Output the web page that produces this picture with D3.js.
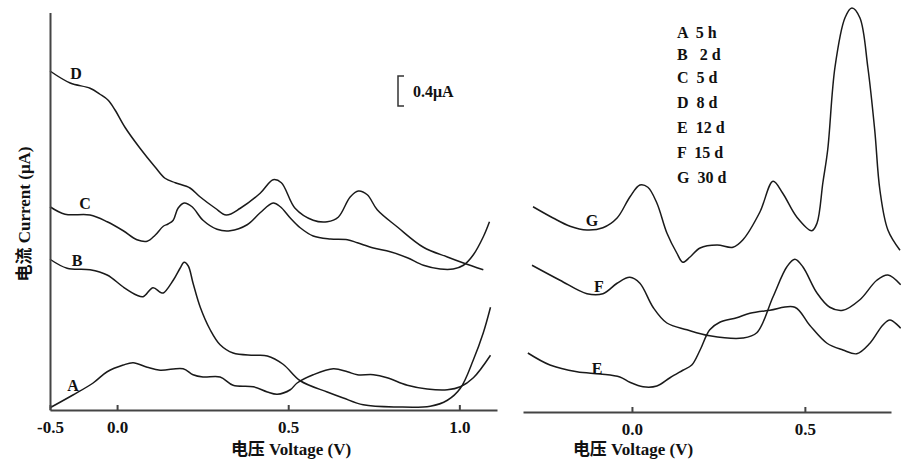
<!DOCTYPE html>
<html>
<head>
<meta charset="utf-8">
<script src="https://cdn.jsdelivr.net/npm/d3@7"></script>
<style>
  body { margin: 0; background: #fff; }
  .lbl { font-family: "Liberation Serif", "DejaVu Serif", serif; font-weight: bold; fill: #111; }
  .title { font-family: "Liberation Serif", "Noto Sans CJK SC", serif; font-weight: bold; fill: #111; }
  .axis path, .axis line { stroke: #444; stroke-width: 2; }
  .curve { fill: none; stroke: #1a1a1a; stroke-width: 1.5; }
</style>
</head>
<body>
<div id="chart"></div>
<script>
// Voltage (V) / current (uA).
const voltsA = [-0.196, -0.129, -0.070, -0.029, 0.018, 0.047, 0.088, 0.126, 0.193, 0.222, 0.251, 0.301, 0.339, 0.398, 0.439, 0.468, 0.506, 0.526, 0.573, 0.632, 0.673, 0.702, 0.749, 0.789, 0.848, 0.906, 0.965, 1.003, 1.041, 1.091];
const currA = [0.03, 0.20, 0.36, 0.51, 0.60, 0.63, 0.57, 0.53, 0.55, 0.47, 0.44, 0.44, 0.33, 0.31, 0.24, 0.21, 0.27, 0.36, 0.47, 0.55, 0.51, 0.47, 0.47, 0.43, 0.33, 0.28, 0.27, 0.31, 0.43, 0.73];

const voltsB = [-0.196, -0.146, -0.079, -0.029, 0.018, 0.058, 0.076, 0.105, 0.126, 0.135, 0.164, 0.184, 0.196, 0.208, 0.222, 0.243, 0.272, 0.301, 0.339, 0.398, 0.439, 0.485, 0.535, 0.614, 0.661, 0.719, 0.819, 0.915, 0.965, 1.003, 1.041, 1.070, 1.091];
const currB = [2.01, 1.89, 1.87, 1.80, 1.64, 1.53, 1.51, 1.63, 1.57, 1.56, 1.73, 1.89, 1.97, 1.92, 1.69, 1.37, 1.07, 0.87, 0.76, 0.73, 0.72, 0.61, 0.39, 0.24, 0.16, 0.07, 0.04, 0.05, 0.13, 0.29, 0.67, 1.03, 1.37];

const voltsC = [-0.196, -0.152, -0.079, -0.029, 0.018, 0.058, 0.088, 0.111, 0.135, 0.149, 0.164, 0.178, 0.196, 0.219, 0.251, 0.292, 0.330, 0.380, 0.418, 0.456, 0.477, 0.506, 0.535, 0.573, 0.623, 0.673, 0.702, 0.749, 0.798, 0.848, 0.895, 0.944, 0.982, 1.012, 1.041, 1.070, 1.088];
const currC = [2.71, 2.61, 2.60, 2.51, 2.39, 2.27, 2.25, 2.33, 2.45, 2.48, 2.53, 2.69, 2.76, 2.71, 2.53, 2.41, 2.39, 2.47, 2.63, 2.76, 2.71, 2.56, 2.43, 2.32, 2.28, 2.27, 2.23, 2.16, 2.11, 2.03, 1.93, 1.88, 1.88, 1.93, 2.07, 2.31, 2.51];

const voltsD = [-0.196, -0.137, -0.079, -0.050, -0.026, -0.006, 0.023, 0.067, 0.111, 0.140, 0.170, 0.213, 0.243, 0.287, 0.319, 0.360, 0.418, 0.456, 0.480, 0.520, 0.573, 0.614, 0.646, 0.681, 0.705, 0.731, 0.760, 0.819, 0.895, 0.965, 1.012, 1.070];
const currD = [4.52, 4.36, 4.29, 4.21, 4.13, 4.00, 3.77, 3.49, 3.24, 3.09, 3.03, 2.96, 2.84, 2.69, 2.60, 2.69, 2.89, 3.07, 3.03, 2.69, 2.53, 2.51, 2.57, 2.84, 2.92, 2.87, 2.67, 2.44, 2.17, 2.04, 1.96, 1.87];

const voltsE = [-0.301, -0.237, -0.159, -0.092, -0.035, -0.006, 0.032, 0.072, 0.110, 0.147, 0.173, 0.197, 0.225, 0.254, 0.303, 0.341, 0.399, 0.471, 0.514, 0.564, 0.610, 0.650, 0.688, 0.725, 0.746, 0.777];
const currE = [0.76, 0.60, 0.51, 0.48, 0.44, 0.37, 0.31, 0.32, 0.43, 0.53, 0.60, 0.80, 1.07, 1.17, 1.23, 1.29, 1.33, 1.37, 1.13, 0.89, 0.80, 0.75, 0.89, 1.13, 1.20, 1.09];

const voltsF = [-0.289, -0.208, -0.130, -0.084, -0.043, -0.006, 0.023, 0.061, 0.101, 0.159, 0.225, 0.321, 0.361, 0.408, 0.448, 0.471, 0.494, 0.535, 0.572, 0.610, 0.659, 0.708, 0.740, 0.777];
const currF = [1.93, 1.73, 1.55, 1.55, 1.69, 1.77, 1.69, 1.37, 1.16, 1.07, 0.99, 0.96, 1.03, 1.51, 1.91, 2.01, 1.91, 1.56, 1.37, 1.33, 1.47, 1.73, 1.80, 1.67];

const voltsG = [-0.286, -0.228, -0.179, -0.130, -0.084, -0.043, -0.006, 0.023, 0.046, 0.072, 0.101, 0.130, 0.147, 0.168, 0.197, 0.246, 0.292, 0.321, 0.370, 0.408, 0.436, 0.477, 0.520, 0.535, 0.552, 0.566, 0.587, 0.616, 0.636, 0.659, 0.682, 0.702, 0.717, 0.740, 0.775];
const currG = [2.71, 2.56, 2.45, 2.40, 2.43, 2.56, 2.84, 3.00, 2.97, 2.76, 2.36, 2.09, 1.97, 2.04, 2.16, 2.20, 2.17, 2.27, 2.64, 3.05, 2.89, 2.57, 2.39, 2.49, 3.03, 3.47, 4.57, 5.23, 5.36, 5.23, 4.57, 3.73, 2.93, 2.40, 2.13];

const leftTickValues = [-0.196, 0, 0.5, 1.0];
const leftTickLabels = ['-0.5', '0.0', '0.5', '1.0'];
const rightTickValues = [0, 0.5];
const rightTickLabels = ['0.0', '0.5'];

const legendItems = ['A  5 h', 'B   2 d', 'C  5 d', 'D  8 d', 'E  12 d', 'F  15 d', 'G  30 d'];
const scaleBarValue = 0.4;

const width = 901,
      height = 463;

// legend baselines (px), spacing in the original is uneven
const legendY = [38, 60, 83, 108, 133, 158, 183];

const svg = d3.select('#chart')
              .append('svg')
              .attr('width', width)
              .attr('height', height);

const xL = d3.scaleLinear().domain([-0.196, 1.11]).range([50, 497]);
const xR = d3.scaleLinear().domain([-0.315, 0.749]).range([523, 891]);
const y = d3.scaleLinear().domain([0, 5.3]).range([410, 12.5]);

// left panel: A-D, right panel: E-G
const leftSeries = [
  { name: 'A', v: voltsA, c: currA, lx: 73, ly: 391 },
  { name: 'B', v: voltsB, c: currB, lx: 77, ly: 266 },
  { name: 'C', v: voltsC, c: currC, lx: 85, ly: 209 },
  { name: 'D', v: voltsD, c: currD, lx: 76, ly: 79 }
];
const rightSeries = [
  { name: 'E', v: voltsE, c: currE, lx: 597, ly: 374 },
  { name: 'F', v: voltsF, c: currF, lx: 599, ly: 292 },
  { name: 'G', v: voltsG, c: currG, lx: 592, ly: 226 }
];

const drawCurves = function(series, x) {
  const line = d3.line()
                 .x(d => x(d[0]))
                 .y(d => y(d[1]))
                 .curve(d3.curveCatmullRom.alpha(0.5));

  svg.append('g')
     .selectAll('path')
     .data(series)
     .enter()
     .append('path')
     .attr('class', 'curve')
     .attr('d', s => line(s.v.map((v, i) => [v, s.c[i]])));

  svg.append('g')
     .selectAll('text')
     .data(series)
     .enter()
     .append('text')
     .attr('class', 'lbl')
     .attr('x', s => s.lx)
     .attr('y', s => s.ly)
     .attr('text-anchor', 'middle')
     .attr('font-size', 16)
     .text(s => s.name);
};

drawCurves(leftSeries, xL);
drawCurves(rightSeries, xR);

// axes
const styleTicks = function(g) {
  g.selectAll('text')
   .attr('class', 'lbl')
   .attr('font-size', 17)
   .attr('dy', 0)
   .attr('y', 23);
  g.select('.domain').attr('stroke', '#444');
};

svg.append('g')
   .attr('class', 'axis')
   .attr('transform', 'translate(0,' + 410 + ')')
   .call(d3.axisBottom(xL)
           .tickValues(leftTickValues)
           .tickFormat((d, i) => leftTickLabels[i])
           .tickSizeInner(-5)
           .tickSizeOuter(0))
   .call(styleTicks);

svg.append('g')
   .attr('class', 'axis')
   .attr('transform', 'translate(0,' + 412 + ')')
   .call(d3.axisBottom(xR)
           .tickValues(rightTickValues)
           .tickFormat((d, i) => rightTickLabels[i])
           .tickSizeInner(-5)
           .tickSizeOuter(0))
   .call(styleTicks);

svg.append('g')
   .attr('class', 'axis')
   .attr('transform', 'translate(50,0)')
   .call(d3.axisLeft(y).tickValues([]).tickSizeOuter(0));

// axis titles
svg.append('text')
   .attr('class', 'title')
   .attr('x', 291)
   .attr('y', 455)
   .attr('text-anchor', 'middle')
   .attr('font-size', 17)
   .text('电压 Voltage (V)');

svg.append('text')
   .attr('class', 'title')
   .attr('x', 633)
   .attr('y', 455)
   .attr('text-anchor', 'middle')
   .attr('font-size', 17)
   .text('电压 Voltage (V)');

svg.append('text')
   .attr('class', 'title')
   .attr('transform', 'translate(30,214) rotate(-90)')
   .attr('text-anchor', 'middle')
   .attr('font-size', 17)
   .text('电流 Current (μA)');

// scale bar
const barX = 398,
      barTop = 76;
svg.append('path')
   .attr('d', 'M' + (barX + 6) + ',' + barTop + 'H' + barX + 'V' + (barTop + (y(0) - y(scaleBarValue))) + 'H' + (barX + 6))
   .attr('fill', 'none')
   .attr('stroke', '#333')
   .attr('stroke-width', 1.5);

svg.append('text')
   .attr('class', 'lbl')
   .attr('x', 413)
   .attr('y', 97)
   .attr('font-size', 16)
   .text(scaleBarValue + 'μA');

// legend
svg.append('g')
   .selectAll('text')
   .data(legendItems)
   .enter()
   .append('text')
   .attr('class', 'lbl')
   .attr('x', 677)
   .attr('y', (d, i) => legendY[i])
   .attr('font-size', 16)
   .attr('xml:space', 'preserve')
   .style('white-space', 'pre')
   .text(d => d);
</script>
</body>
</html>
